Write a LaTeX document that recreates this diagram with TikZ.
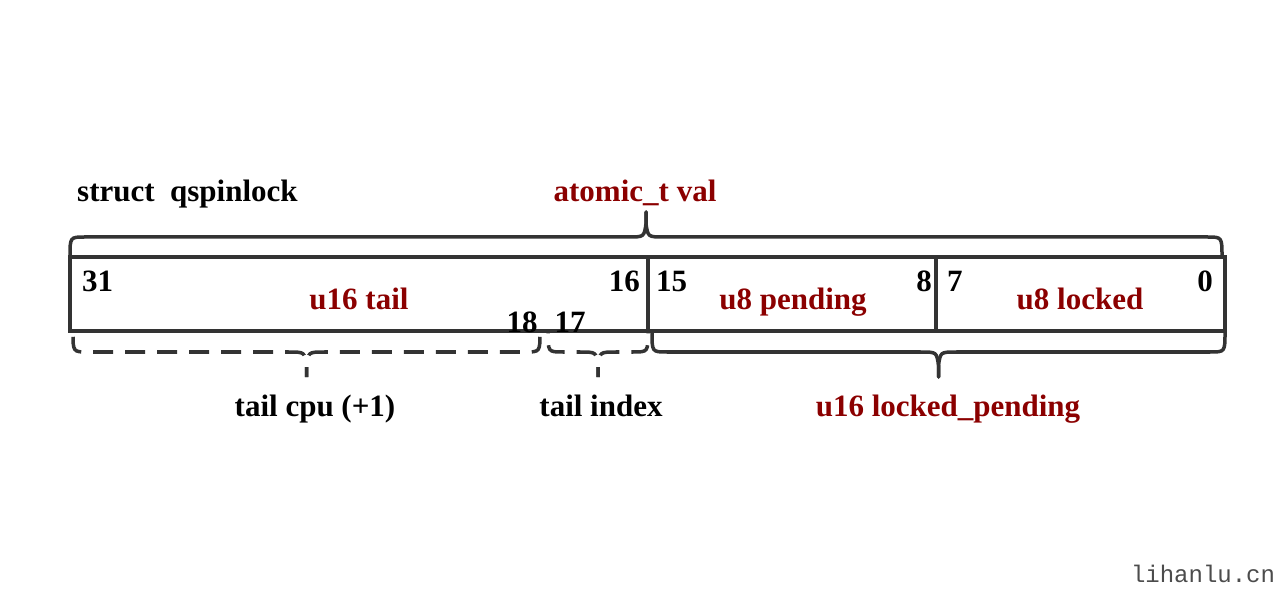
\documentclass[tikz,border=0pt]{standalone}
\usepackage{fontspec}
\setmainfont{Liberation Serif}
\setmonofont{Liberation Mono}
\usepackage{tikz}
\usetikzlibrary{calc}
\definecolor{fieldred}{RGB}{139,0,0}
\definecolor{lineg}{RGB}{51,51,51}
\tikzset{
    boxline/.style={draw=lineg, line width=3.5pt},
    braceline/.style={draw=lineg, line width=3.5pt, line cap=round},
    dashbrace/.style={braceline, line cap=butt, dash pattern=on 20pt off 12pt, dash phase=10pt},
    bitno/.style={inner sep=0pt, font=\bfseries\fontsize{31}{36}\selectfont},
    fieldname/.style={bitno, text=fieldred},
    partname/.style={bitno}
}
% half of a brace: from the tip at x=#4 out to the end (#2,#3), sign #5 (+1 down, -1 up)
\newcommand{\halfbrace}[5][]{%
    \draw[braceline,#1] (#4,{#3+#5*45}) -- (#4,{#3+#5*33})
        .. controls ({#4-sign(#4-#2)*2},{#3+#5*20}) .. ({#4-sign(#4-#2)*18},{#3+#5*20})
        -- ({#2+sign(#4-#2)*15},{#3+#5*20}) .. controls (#2,{#3+#5*20}) .. (#2,#3);}
\newcommand{\fieldbrace}[5][]{%
    \pgfmathsetmacro\bracemid{(#2+#3)/2}
    \halfbrace[#1]{#2}{#4}{\bracemid}{#5}
    \halfbrace[#1]{#3}{#4}{\bracemid}{#5}}
\begin{document}
\begin{tikzpicture}[x=1pt,y=-1pt]
    \useasboundingbox (0,0) rectangle (1287,593);
    % the word
    \coordinate (tl) at (70,257);
    \coordinate (br) at (1225,331);
    \draw[boxline] (tl) rectangle (br);
    \draw[boxline] (648,257) -- (648,331);
    \draw[boxline] (936,257) -- (936,331);
    % braces
    \fieldbrace{70}{1222}{257}{-1}
    \fieldbrace[dashbrace]{73}{540}{332}{1}
    \fieldbrace[dashbrace]{548}{648}{332}{1}
    \fieldbrace{652}{1225}{332}{1}
    % titles
    \node[partname, anchor=base west] (sname) at (77,202) {struct\ \ qspinlock};
    \node[fieldname, anchor=base] (val) at (635,202) {atomic\_t val};
    % bit numbers
    \node[bitno, anchor=base west] (b31) at (82,292) {31};
    \node[bitno, anchor=base east] (b16) at (640,292) {16};
    \node[bitno, anchor=base west] (b15) at (656,292) {15};
    \node[bitno, anchor=base east] (b8) at (932,292) {8};
    \node[bitno, anchor=base west] (b7) at (947,292) {7};
    \node[bitno, anchor=base east] (b0) at (1213,292) {0};
    \node[bitno, anchor=base] (b18) at (522,333) {18};
    \node[bitno, anchor=base] (b17) at (570,333) {17};
    % fields
    \node[fieldname, anchor=base] (tail) at (359,310) {u16 tail};
    \node[fieldname, anchor=base] (pend) at (793,310) {u8 pending};
    \node[fieldname, anchor=base] (lock) at (1080,310) {u8 locked};
    \node[partname, anchor=base] (tcpu) at (315,416) {tail cpu (+1)};
    \node[partname, anchor=base] (tidx) at (601,416) {tail index};
    \node[fieldname, anchor=base] (lp) at (948,416) {u16 locked\_pending};
    % watermark
    \node[inner sep=0pt, anchor=base, text=black!70, font=\ttfamily\fontsize{24}{28}\selectfont] (mark) at (1203,582) {lihanlu.cn};
\end{tikzpicture}
\end{document}
